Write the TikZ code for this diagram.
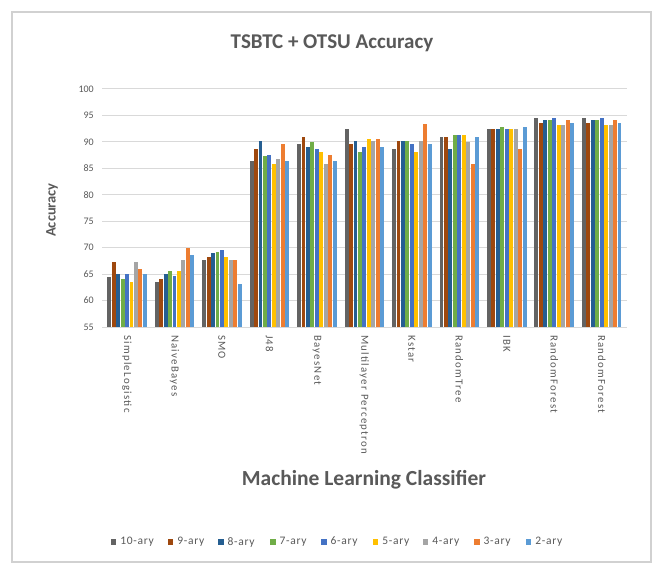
\documentclass[tikz,border=0pt]{standalone}
\usepackage{fontspec}
\setmainfont{Carlito}
\newfontfamily\spaced[LetterSpace=12]{Carlito}
\newfontfamily\legfont[LetterSpace=6]{Carlito}
\definecolor{txt}{HTML}{595959}
\definecolor{grid}{HTML}{D9D9D9}
\definecolor{c1}{HTML}{636363}
\definecolor{c2}{HTML}{9E480E}
\definecolor{c3}{HTML}{255E91}
\definecolor{c4}{HTML}{70AD47}
\definecolor{c5}{HTML}{4472C4}
\definecolor{c6}{HTML}{FFC000}
\definecolor{c7}{HTML}{A5A5A5}
\definecolor{c8}{HTML}{ED7D31}
\definecolor{c9}{HTML}{5B9BD5}
\tikzset{
  ticklab/.style={anchor=east, text=txt, font=\fontsize{10}{12}\selectfont, inner sep=0pt},
  catlab/.style={rotate=-90, anchor=west, text=txt, font=\spaced\fontsize{10.8}{12}\selectfont, inner sep=0pt},
  legtext/.style={anchor=west, text=txt, font=\legfont\fontsize{11.5}{13}\selectfont, inner sep=0pt},
  bigtitle/.style={text=txt, font=\bfseries\fontsize{21}{25}\selectfont},
  axtitle/.style={text=txt, font=\bfseries\fontsize{21.5}{25}\selectfont},
  ytit/.style={text=txt, font=\bfseries\fontsize{14.5}{17}\selectfont},
}
\begin{document}
\begin{tikzpicture}[x=1pt,y=-1pt]
\useasboundingbox (0,0) rectangle (660,569);
\fill[white] (0,0) rectangle (660,569);
\draw[black!18, line width=1.2pt] (12,12) rectangle (651,562);
\node[bigtitle] (title) at (332,43) {TSBTC + OTSU Accuracy};
% gridlines and tick labels
\foreach \v in {55,60,...,100}{
  \pgfmathsetmacro{\yy}{327-(\v-55)*5.289}
  \draw[grid, line width=1pt] (102,\yy) -- (627,\yy);
  \node[ticklab] (t\v) at (94,\yy) {\v};
}
% bars
\foreach \g/\vals/\name in {
  1/{64.5,67.3,65.05,64.1,65.05,63.6,67.25,66.0,65.05}/SimpleLogistic,
  2/{63.6,64.1,65.05,65.55,64.55,65.55,67.75,70.0,68.7}/NaiveBayes,
  3/{67.75,68.2,68.9,69.1,69.5,68.2,67.75,67.75,63.15}/SMO,
  4/{86.35,88.6,90.1,87.3,87.55,85.8,86.8,89.55,86.35}/J48,
  5/{89.55,91.0,89.05,90.0,88.6,88.1,85.8,87.55,86.35}/BayesNet,
  6/{92.4,89.55,90.1,88.1,89.05,90.6,90.1,90.6,89.05}/Multilayer Perceptron,
  7/{88.6,90.1,90.1,90.1,89.55,88.1,90.1,93.3,89.55}/Kstar,
  8/{91.0,91.0,88.6,91.25,91.25,91.25,90.0,85.8,91.0}/RandomTree,
  9/{92.4,92.4,92.4,92.8,92.4,92.4,92.4,88.6,92.8}/IBK,
  10/{94.55,93.6,94.1,94.1,94.55,93.15,93.15,94.1,93.6}/RandomForest,
  11/{94.55,93.6,94.1,94.1,94.55,93.15,93.15,94.1,93.6}/RandomForest}{
  \pgfmathsetmacro{\gc}{127+47.47*(\g-1)}
  \foreach \v [count=\k] in \vals {
    \pgfmathsetmacro{\xa}{\gc+(\k-5)*4.45-1.95}
    \pgfmathsetmacro{\xb}{\gc+(\k-5)*4.45+1.95}
    \pgfmathsetmacro{\yt}{327-(\v-55)*5.289}
    \fill[c\k] (\xa,327) rectangle (\xb,\yt);
  }
  \node[catlab] (cat\g) at (\gc,335) {\name};
}
% axis titles
\node[ytit, rotate=90] (ytitle) at (52,210) {Accuracy};
\node[axtitle] (xtitle) at (364,480) {Machine Learning Classifier};
% legend
\foreach \x/\k/\lab in {110.7/1/10-ary,167.7/2/9-ary,218/3/8-ary,270/4/7-ary,321/5/6-ary,372.7/6/5-ary,422.7/7/4-ary,474/8/3-ary,525.7/9/2-ary}{
  \fill[c\k] (\x,539.3) rectangle ++(5.5,5.5);
  \node[legtext] (leg\k) at (\x+9.5,542) {\lab};
}
\end{tikzpicture}
\end{document}
